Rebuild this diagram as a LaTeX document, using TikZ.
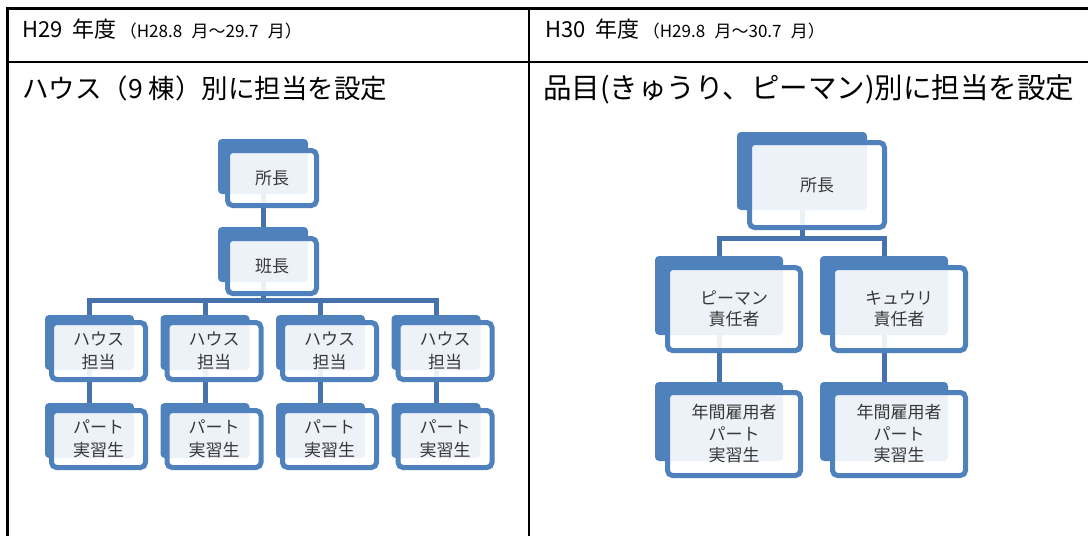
\documentclass[tikz,border=0pt]{standalone}
\usepackage{fontspec}
\setmainfont{Noto Sans CJK JP}
\usetikzlibrary{backgrounds}
\definecolor{boxblue}{HTML}{4F81BD}
\definecolor{connblue}{HTML}{4673AD}
\definecolor{boxtext}{HTML}{383838}
\begin{document}
\begin{tikzpicture}[x=1pt,y=-1pt,
  tbl/.style={line width=2.4pt, draw=black},
  back/.style={fill=boxblue, rounded corners=4pt, inner sep=0pt, outer sep=0pt, anchor=north west},
  backS/.style={back, minimum width=89pt, minimum height=55pt},
  backM/.style={back, minimum width=90pt, minimum height=55pt},
  backRL/.style={back, minimum width=130pt, minimum height=78pt},
  backR/.style={back, minimum width=128pt, minimum height=79pt},
  front/.style={draw=boxblue, line width=5pt, fill=white, fill opacity=0.9, text opacity=1,
    rounded corners=5pt, inner sep=0pt, anchor=north west, align=center, text=boxtext},
  frontS/.style={front, minimum width=94pt, minimum height=57pt, font=\fontsize{17}{23}\selectfont},
  frontM/.style={front, minimum width=89pt, minimum height=55pt, font=\fontsize{17}{23}\selectfont},
  frontRL/.style={front, minimum width=135pt, minimum height=85pt, font=\fontsize{17}{21.5}\selectfont},
  frontR/.style={front, minimum width=133pt, minimum height=83pt, font=\fontsize{17}{21.5}\selectfont},
  conn/.style={draw=connblue, line width=5pt, line join=miter},
  lbl/.style={anchor=base west, inner sep=0pt, text=black}
]
\useasboundingbox (0,0) rectangle (1088,536);

% table
\draw[tbl] (1088,8.5) -- (7.5,8.5) -- (7.5,536);
\draw[tbl] (7.5,62) -- (1088,62);
\draw[tbl] (529,8.5) -- (529,536);

% headers
\node[lbl] (h1) at (22,37) {\fontsize{22}{22}\selectfont H29\hspace{0.45em}年度\hspace{0.15em}\fontsize{17}{17}\selectfont（H28.8\hspace{0.55em}月～29.7\hspace{0.55em}月）};
\node[lbl] (h2) at (545,37) {\fontsize{22}{22}\selectfont H30\hspace{0.45em}年度\hspace{0.15em}\fontsize{17}{17}\selectfont（H29.8\hspace{0.55em}月～30.7\hspace{0.55em}月）};
\node[lbl] (t1) at (22,98) {\fontsize{26.5}{26.5}\selectfont ハウス（9 棟）別に担当を設定};
\node[lbl] (t2) at (543,98) {\fontsize{28.5}{28.5}\selectfont 品目(きゅうり、ピーマン)別に担当を設定};

% left tree
\node[backM] (A1b) at (218,139) {};
\node[frontM] (A1f) at (225,148) {所長};
\node[backM] (A2b) at (218,227) {};
\node[frontM] (A2f) at (225,236) {班長};
\foreach \i in {0,1,2,3}{
  \pgfmathsetmacro{\xx}{45+115.5*\i}
  \node[backS] (Hb\i) at (\xx,315) {};
  \node[frontS] (Hf\i) at (\xx+4,320) {ハウス\\担当};
  \node[backS] (Pb\i) at (\xx,403) {};
  \node[frontS] (Pf\i) at (\xx+4,408) {パート\\実習生};
}
\coordinate (busL) at (263,300);

% right tree
\node[backRL] (B1b) at (737,132) {};
\node[frontRL] (B1f) at (747,140) {所長};
\node[backR] (C1b) at (655,256) {};
\node[frontR] (C1f) at (665,265) {ピーマン\\責任者};
\node[backR] (C2b) at (820,256) {};
\node[frontR] (C2f) at (830,265) {キュウリ\\責任者};
\node[backR] (D1b) at (655,382) {};
\node[frontR] (D1f) at (665,390) {年間雇用者\\パート\\実習生};
\node[backR] (D2b) at (820,382) {};
\node[frontR] (D2f) at (830,390) {年間雇用者\\パート\\実習生};
\coordinate (busR) at (802,238);

\begin{scope}[on background layer]
  \draw[conn] (A1b.south) -- (A2b.north);
  \draw[conn] (A2b.south) -- (busL);
  \foreach \i in {0,1,2,3}{
    \draw[conn] (busL) -| (Hb\i.north);
    \draw[conn] (Hb\i.south) -- (Pb\i.north);
  }
  \draw[conn] (B1b.south) -- (busR);
  \draw[conn] (busR) -| (C1b.north);
  \draw[conn] (busR) -| (C2b.north);
  \draw[conn] (C1b.south) -- (D1b.north);
  \draw[conn] (C2b.south) -- (D2b.north);
\end{scope}
\end{tikzpicture}
\end{document}
